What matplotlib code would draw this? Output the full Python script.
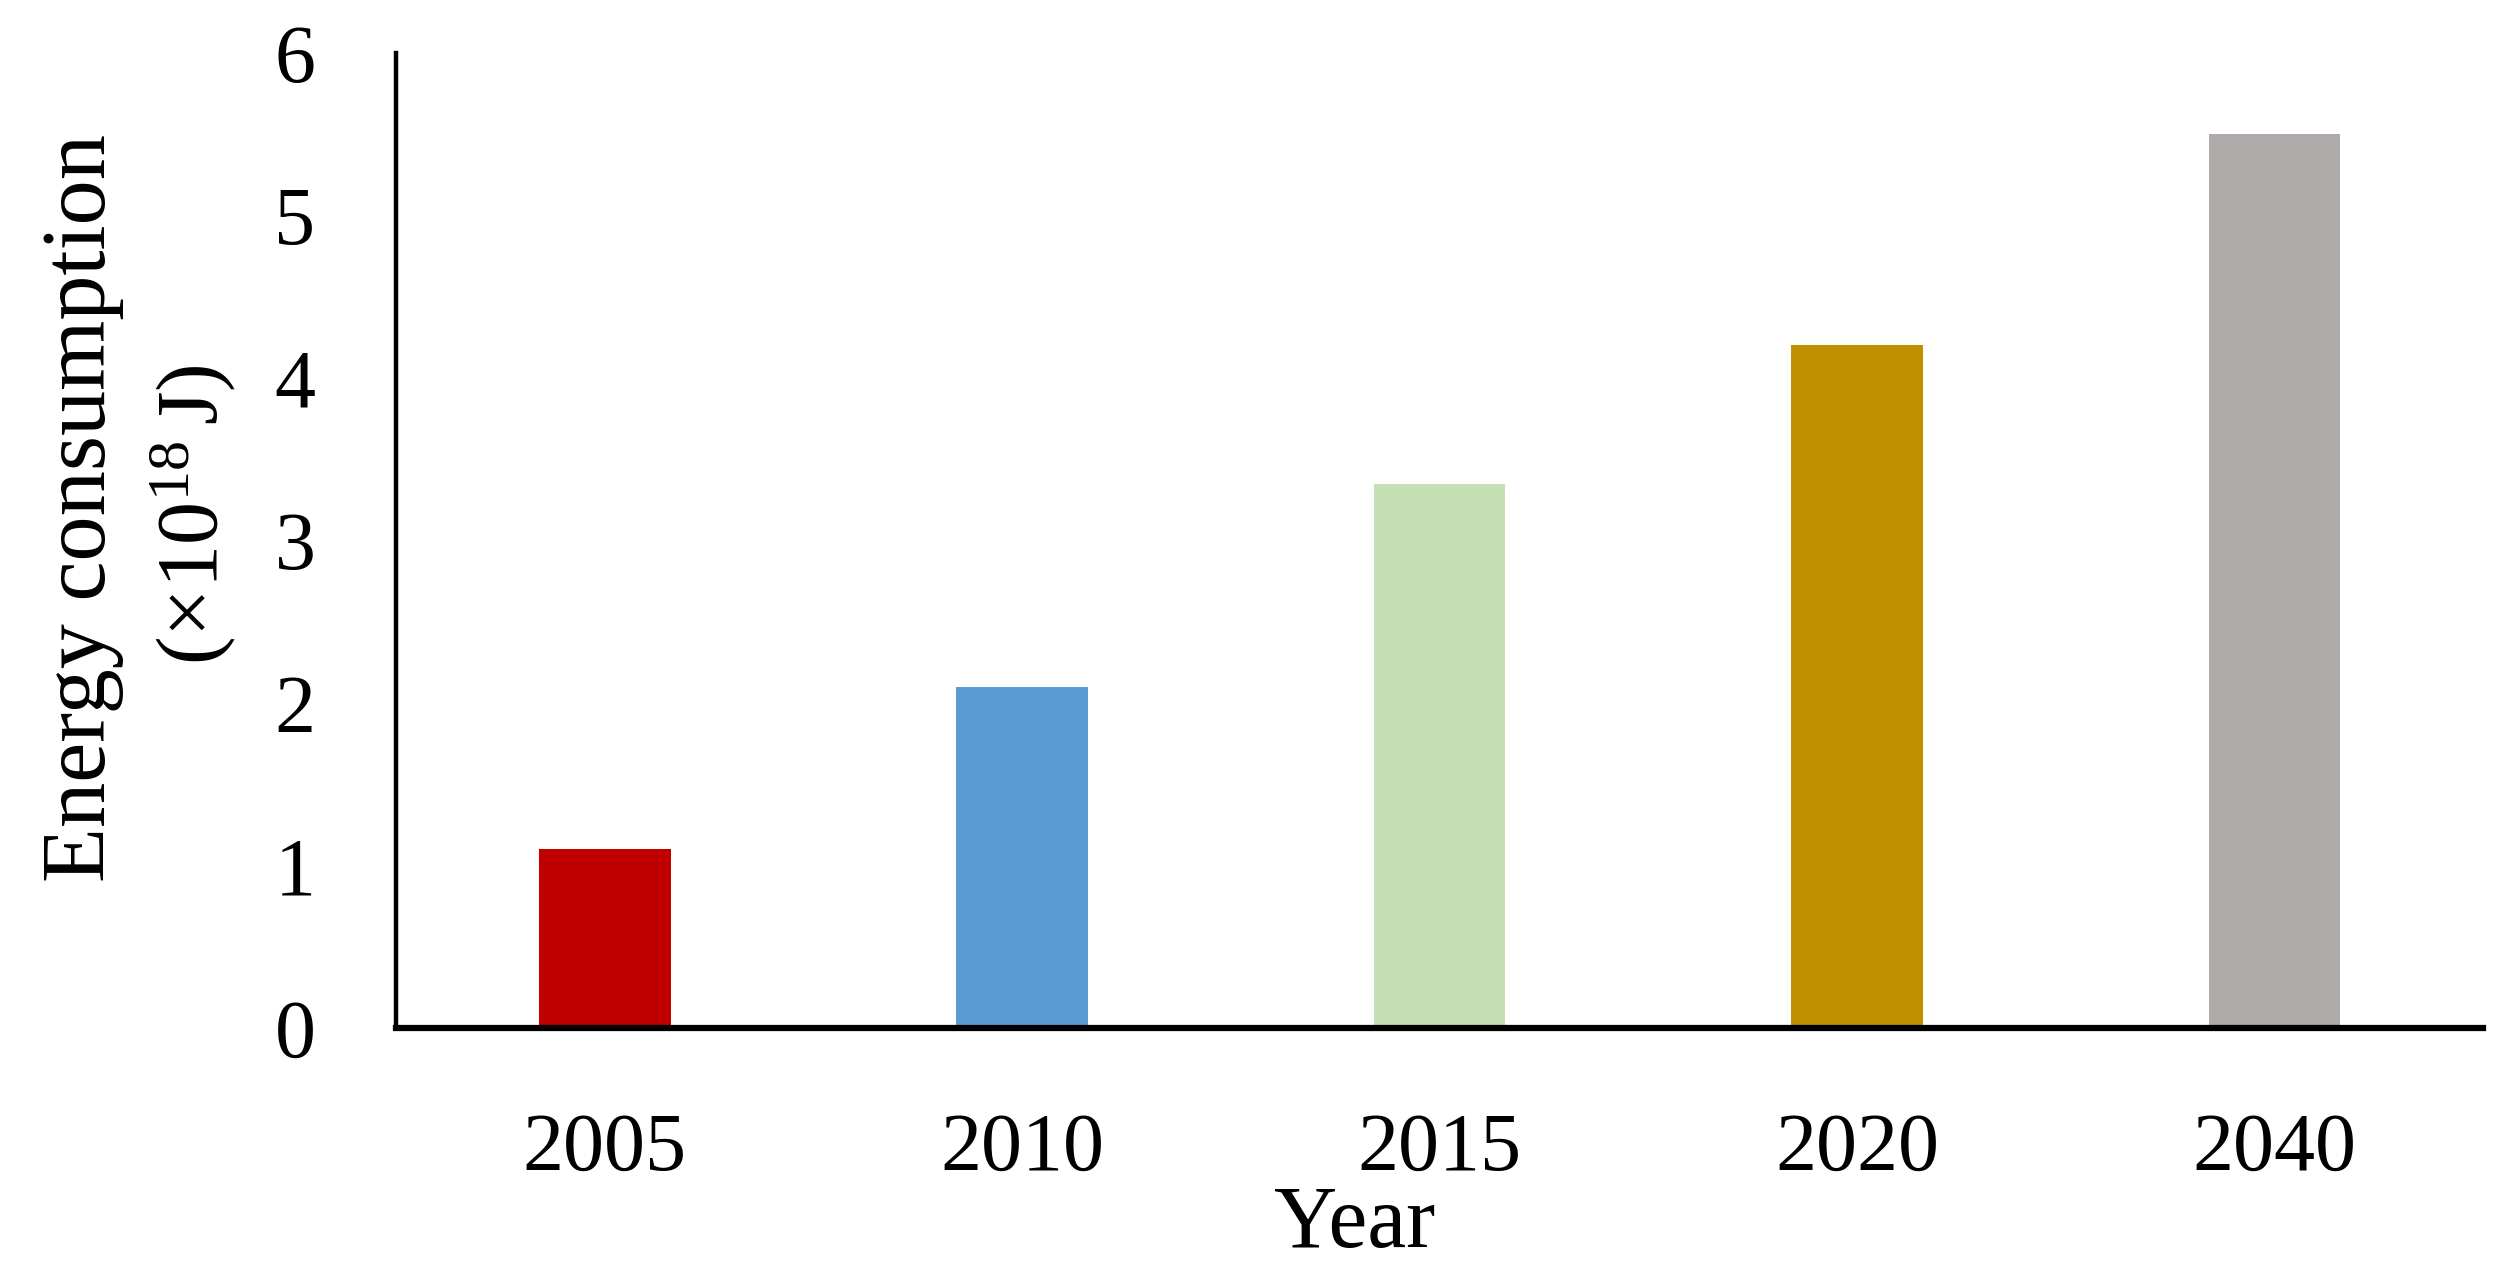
import matplotlib
matplotlib.use("Agg")
import matplotlib.pyplot as plt

# data
years = ['2005', '2010', '2015', '2020', '2040']
energy = [1.1, 2.1, 3.35, 4.2, 5.5]
bar_colors = ['#C00000', '#5B9BD5', '#C5E0B4', '#BF9000', '#AEAAAA']
yticks = [0, 1, 2, 3, 4, 5, 6]

plt.rcParams['font.family'] = ['Liberation Serif', 'DejaVu Serif']
plt.rcParams['mathtext.fontset'] = 'custom'
plt.rcParams['mathtext.rm'] = 'Liberation Serif'
plt.rcParams['mathtext.default'] = 'regular'

fig = plt.figure(figsize=(25.15, 12.76), dpi=100)
ax = fig.add_axes([0.1575, 0.1944, 0.8298, 0.7641])

x = range(len(years))
ax.bar(x, energy, width=0.315, color=bar_colors)

ax.set_xlim(-0.5, len(years) - 0.5)
ax.set_ylim(0, 6)
ax.set_xticks(list(x))
ax.set_xticklabels(years)
ax.set_yticks(yticks)

ax.tick_params(axis='both', length=0, labelsize=59)
ax.tick_params(axis='x', pad=61)
ax.tick_params(axis='y', pad=58)

for s in ['top', 'right']:
    ax.spines[s].set_visible(False)
ax.spines['left'].set_linewidth(3.2)
ax.spines['bottom'].set_linewidth(4.5)

# axis titles placed as figure text to match the reference layout
fig.text(0.0417, 0.602, 'Energy consumption', rotation=90, rotation_mode='anchor',
         ha='center', va='baseline', fontsize=65)
fig.text(0.0863, 0.597, r'(×10$^{18}\,$J)', rotation=90, rotation_mode='anchor',
         ha='center', va='baseline', fontsize=62)
fig.text(0.5388, 0.0227, 'Year', ha='center', va='baseline', fontsize=63)

fig.savefig('out.png', dpi=100)
